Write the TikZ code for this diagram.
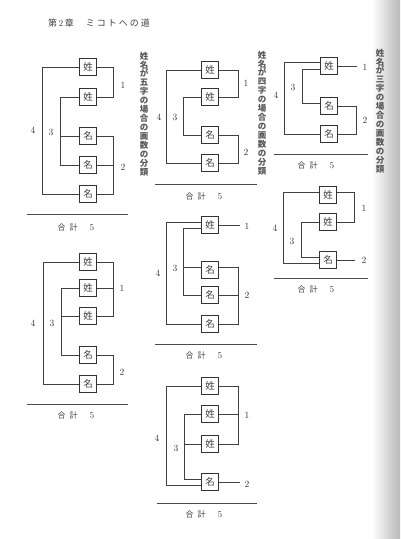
\documentclass[tikz,border=0pt]{standalone}
\usepackage{fontspec}
\newfontfamily\jp{Noto Sans CJK JP}
\tikzset{
  ji/.style={draw=black!80, line width=0.8pt, minimum size=17pt, inner sep=0pt, font=\jp\fontsize{9.5}{9.5}\selectfont, text=black!75},
  wire/.style={draw=black!75, line width=0.6pt},
  num/.style={inner sep=0pt, font=\fontsize{9.5}{9.5}\selectfont, text=black!80},
  total/.style={inner sep=0pt, font=\jp\fontsize{8}{8}\selectfont, text=black!75},
  rule/.style={draw=black!70, line width=0.8pt},
  vtext/.style={inner sep=0pt, align=center, font=\jp\bfseries\fontsize{8.5}{8.95}\selectfont, text=black!65},
}
\newcommand{\goukei}{合\hspace{4pt}計\hspace{12pt}{\rmfamily\fontsize{9}{9}\selectfont 5}}
\begin{document}
\begin{tikzpicture}[x=1pt,y=1pt,yscale=-1]
\useasboundingbox (0,0) rectangle (400,539);
%Shape: page shadow
\shade [left color=white, right color=black!28] (372,0) rectangle (400,539);

% Header
\node [anchor=west, inner sep=0pt, font=\jp\fontsize{9}{9}\selectfont, text=black!75] (head) at (48,23) {第\,{\rmfamily 2}\,章\hspace{12pt}ミ\hspace{2pt}コ\hspace{2pt}ト\hspace{2pt}へ\hspace{2pt}の\hspace{2pt}道};

%% five characters
\node [ji] (a1) at (88,67) {姓};
\node [ji] (a2) at (88,97) {姓};
\node [ji] (a3) at (88,136) {名};
\node [ji] (a4) at (88,165) {名};
\node [ji] (a5) at (88,194) {名};
\coordinate (ax4) at (42,0);
\coordinate (ax3) at (60,0);
\coordinate (axr) at (113,0);
%Straight Lines
\draw [wire] (a1.west) -- (a1.west -| ax4) |- (a5.west);
\draw [wire] (a2.west) -- (a2.west -| ax3) |- (a4.west);
\draw [wire] (a3.west) -- (a3.west -| ax3);
\draw [wire] (a1.east) -- (a1.east -| axr) |- (a2.east);
\draw [wire] (a3.east) -- (a3.east -| axr) |- (a5.east);
\draw [wire] (a4.east) -- (a4.east -| axr);
% Text Node
\node [num] (a4n) at (33,130) {4};
\node [num] (a3n) at (51,132) {3};
\node [num] (a1n) at (123,85) {1};
\node [num] (a2n) at (123,167) {2};
\coordinate (ar1) at (27,214);
\coordinate (ar2) at (128,214);
\draw [rule] (ar1) -- (ar2);
\node [total] (at) at (76,227) {\goukei};

%% five characters, second
\node [ji] (b1) at (88,262) {姓};
\node [ji] (b2) at (88,288) {姓};
\node [ji] (b3) at (88,316) {姓};
\node [ji] (b4) at (88,355) {名};
\node [ji] (b5) at (88,384) {名};
\coordinate (bx4) at (43,0);
\coordinate (bx3) at (61,0);
\coordinate (bxr) at (113,0);
%Straight Lines
\draw [wire] (b1.west) -- (b1.west -| bx4) |- (b5.west);
\draw [wire] (b2.west) -- (b2.west -| bx3) |- (b4.west);
\draw [wire] (b3.west) -- (b3.west -| bx3);
\draw [wire] (b1.east) -- (b1.east -| bxr) |- (b3.east);
\draw [wire] (b2.east) -- (b2.east -| bxr);
\draw [wire] (b4.east) -- (b4.east -| bxr) |- (b5.east);
% Text Node
\node [num] (b4n) at (33,323) {4};
\node [num] (b3n) at (52,323) {3};
\node [num] (b1n) at (122,288) {1};
\node [num] (b2n) at (122,372) {2};
\coordinate (br1) at (27,404);
\coordinate (br2) at (128,404);
\draw [rule] (br1) -- (br2);
\node [total] (bt) at (76,415) {\goukei};

%% four characters
\node [ji] (c1) at (210,70) {姓};
\node [ji] (c2) at (210,97) {姓};
\node [ji] (c3) at (210,135) {名};
\node [ji] (c4) at (210,163) {名};
\coordinate (cx4) at (166,0);
\coordinate (cx3) at (183,0);
\coordinate (cxr) at (238,0);
%Straight Lines
\draw [wire] (c1.west) -- (c1.west -| cx4) |- (c4.west);
\draw [wire] (c2.west) -- (c2.west -| cx3) |- (c3.west);
\draw [wire] (c1.east) -- (c1.east -| cxr) |- (c2.east);
\draw [wire] (c3.east) -- (c3.east -| cxr) |- (c4.east);
% Text Node
\node [num] (c4n) at (159,117) {4};
\node [num] (c3n) at (175,117) {3};
\node [num] (c1n) at (246,83) {1};
\node [num] (c2n) at (246,152) {2};
\coordinate (cr1) at (155,184);
\coordinate (cr2) at (257,184);
\draw [rule] (cr1) -- (cr2);
\node [total] (ct) at (204,196) {\goukei};

%% four characters, second
\node [ji] (d1) at (210,225) {姓};
\node [ji] (d2) at (210,270) {名};
\node [ji] (d3) at (210,295) {名};
\node [ji] (d4) at (210,324) {名};
\coordinate (dx4) at (166,0);
\coordinate (dx3) at (183,0);
\coordinate (dxr) at (238,0);
\coordinate (dend) at (240,225);
%Straight Lines
\draw [wire] (d1.162) -- (d1.162 -| dx4) |- (d4.west);
\draw [wire] (d1.200) -- (d1.200 -| dx3) |- (d3.west);
\draw [wire] (d2.165) -- (d2.165 -| dx3);
\draw [wire] (d1.east) -- (d1.east -| dend);
\draw [wire] (d2.15) -- (d2.15 -| dxr) |- (d4.east);
\draw [wire] (d3.east) -- (d3.east -| dxr);
% Text Node
\node [num] (d4n) at (158,273) {4};
\node [num] (d3n) at (175,268) {3};
\node [num] (d1n) at (247,226) {1};
\node [num] (d2n) at (247,295) {2};
\coordinate (dr1) at (155,344);
\coordinate (dr2) at (257,344);
\draw [rule] (dr1) -- (dr2);
\node [total] (dt) at (204,355) {\goukei};

%% four characters, third
\node [ji] (e1) at (210,386) {姓};
\node [ji] (e2) at (210,414) {姓};
\node [ji] (e3) at (210,444) {姓};
\node [ji] (e4) at (210,482) {名};
\coordinate (ex4) at (166,0);
\coordinate (ex3) at (184,0);
\coordinate (exr) at (238,0);
\coordinate (eend) at (240,484);
%Straight Lines
\draw [wire] (e1.west) -- (e1.west -| ex4) |- (e4.198);
\draw [wire] (e2.west) -- (e2.west -| ex3) |- (e4.162);
\draw [wire] (e3.west) -- (e3.west -| ex3);
\draw [wire] (e1.east) -- (e1.east -| exr) |- (e3.east);
\draw [wire] (e2.east) -- (e2.east -| exr);
\draw [wire] (e4.east) -- (e4.east -| eend);
% Text Node
\node [num] (e4n) at (157,438) {4};
\node [num] (e3n) at (176,448) {3};
\node [num] (e1n) at (247,415) {1};
\node [num] (e2n) at (247,484) {2};
\coordinate (er1) at (157,503);
\coordinate (er2) at (257,503);
\draw [rule] (er1) -- (er2);
\node [total] (et) at (204,514) {\goukei};

%% three characters
\node [ji] (f1) at (329,66) {姓};
\node [ji] (f2) at (329,106) {名};
\node [ji] (f3) at (329,134) {名};
\coordinate (fx4) at (284,0);
\coordinate (fx3) at (302,0);
\coordinate (fxr) at (356,0);
\coordinate (fend) at (357,66);
%Straight Lines
\draw [wire] (f1.160) -- (f1.160 -| fx4) |- (f3.west);
\draw [wire] (f1.200) -- (f1.200 -| fx3) |- (f2.165);
\draw [wire] (f1.east) -- (f1.east -| fend);
\draw [wire] (f2.east) -- (f2.east -| fxr) |- (f3.east);
% Text Node
\node [num] (f4n) at (276,95) {4};
\node [num] (f3n) at (293,87) {3};
\node [num] (f1n) at (365,67) {1};
\node [num] (f2n) at (365,120) {2};
\coordinate (fr1) at (274,154);
\coordinate (fr2) at (368,154);
\draw [rule] (fr1) -- (fr2);
\node [total] (ft) at (316,165) {\goukei};

%% three characters, second
\node [ji] (g1) at (328,195) {姓};
\node [ji] (g2) at (328,222) {姓};
\node [ji] (g3) at (328,260) {名};
\coordinate (gx4) at (283,0);
\coordinate (gx3) at (301,0);
\coordinate (gxr) at (354,0);
\coordinate (gend) at (355,260);
%Straight Lines
\draw [wire] (g1.165) -- (g1.165 -| gx4) |- (g3.200);
\draw [wire] (g2.west) -- (g2.west -| gx3) |- (g3.165);
\draw [wire] (g1.165 -| g1.east) -- (g1.165 -| gxr) |- (g2.east);
\draw [wire] (g3.east) -- (g3.east -| gend);
% Text Node
\node [num] (g4n) at (275,228) {4};
\node [num] (g3n) at (292,241) {3};
\node [num] (g1n) at (364,208) {1};
\node [num] (g2n) at (364,260) {2};
\coordinate (gr1) at (274,278);
\coordinate (gr2) at (368,278);
\draw [rule] (gr1) -- (gr2);
\node [total] (gt) at (316,289) {\goukei};

% Vertical captions
\node [vtext] (cap5) at (144,114) {姓\\名\\が\\五\\字\\の\\場\\合\\の\\画\\数\\の\\分\\類};
\node [vtext] (cap4) at (262,113) {姓\\名\\が\\四\\字\\の\\場\\合\\の\\画\\数\\の\\分\\類};
\node [vtext] (cap3) at (380,111) {姓\\名\\が\\三\\字\\の\\場\\合\\の\\画\\数\\の\\分\\類};

\end{tikzpicture}
\end{document}
